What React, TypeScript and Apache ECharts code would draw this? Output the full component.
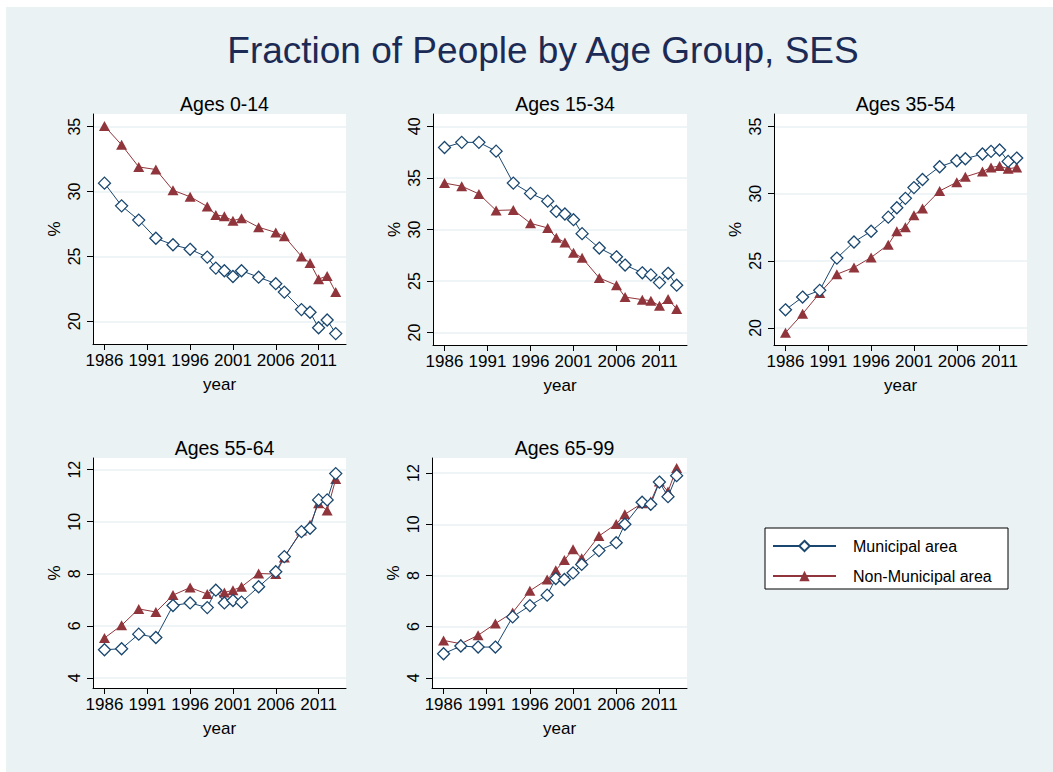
import React, { useEffect, useRef } from "react";
import * as echarts from "echarts";

const years = [1986, 1988, 1990, 1992, 1994, 1996, 1998, 1999, 2000, 2001, 2002, 2004, 2006, 2007, 2009, 2010, 2011, 2012, 2013];

const muni0_14 = [30.65, 28.9, 27.8, 26.4, 25.9, 25.55, 24.95, 24.1, 23.9, 23.45, 23.9, 23.4, 22.9, 22.25, 20.9, 20.7, 19.5, 20.1, 19.05];
const non0_14 = [35.05, 33.6, 31.9, 31.7, 30.1, 29.6, 28.85, 28.2, 28.1, 27.75, 27.95, 27.25, 26.85, 26.55, 25.0, 24.5, 23.25, 23.5, 22.25];

const muni15_34 = [37.95, 38.45, 38.45, 37.6, 34.5, 33.5, 32.75, 31.75, 31.5, 30.95, 29.6, 28.2, 27.35, 26.55, 25.8, 25.6, 24.85, 25.75, 24.6];
const non15_34 = [34.5, 34.2, 33.45, 31.85, 31.9, 30.6, 30.15, 29.2, 28.75, 27.75, 27.25, 25.3, 24.6, 23.45, 23.2, 23.1, 22.6, 23.25, 22.3];

const muni35_54 = [21.35, 22.3, 22.8, 25.2, 26.4, 27.2, 28.25, 28.95, 29.65, 30.45, 31.05, 32.0, 32.45, 32.6, 32.95, 33.15, 33.25, 32.4, 32.65];
const non35_54 = [19.65, 21.05, 22.6, 24.0, 24.5, 25.25, 26.2, 27.2, 27.5, 28.4, 28.9, 30.2, 30.85, 31.25, 31.65, 31.95, 32.05, 31.85, 31.95];

const muni55_64 = [5.08, 5.12, 5.68, 5.55, 6.78, 6.88, 6.7, 7.37, 6.88, 6.97, 6.91, 7.5, 8.08, 8.66, 9.62, 9.75, 10.84, 10.84, 11.85];
const non55_64 = [5.53, 6.02, 6.65, 6.53, 7.18, 7.47, 7.22, 7.43, 7.28, 7.37, 7.5, 8.01, 7.99, 8.63, 9.66, 9.88, 10.71, 10.43, 11.64];

const muni65_99 = [4.94, 5.24, 5.2, 5.2, 6.38, 6.82, 7.23, 7.88, 7.84, 8.1, 8.43, 8.97, 9.28, 10.0, 10.86, 10.78, 11.65, 11.08, 11.9];
const non65_99 = [5.46, 5.33, 5.66, 6.12, 6.55, 7.4, 7.84, 8.2, 8.6, 9.02, 8.67, 9.54, 10.01, 10.39, 10.82, 10.89, 11.67, 11.28, 12.2];

const panelTitles = ["Ages 0-14", "Ages 15-34", "Ages 35-54", "Ages 55-64", "Ages 65-99"];
const municipal = [muni0_14, muni15_34, muni35_54, muni55_64, muni65_99];
const nonMunicipal = [non0_14, non15_34, non35_54, non55_64, non65_99];

const xTicks = [1986, 1991, 1996, 2001, 2006, 2011];
const yTicks0_14 = [20, 25, 30, 35];
const yTicks15_34 = [20, 25, 30, 35, 40];
const yTicks35_54 = [20, 25, 30, 35];
const yTicksOld = [4, 6, 8, 10, 12];
const yTicks = [yTicks0_14, yTicks15_34, yTicks35_54, yTicksOld, yTicksOld];

const seriesNames = ["Municipal area", "Non-Municipal area"];

const BLUE = "#1a476f";
const RED = "#90353b";
const BG = "#eaf2f3";
const FONT = "'Liberation Sans', Arial, sans-serif";

// layout (pixels)
const grids = [
  { left: 93, top: 114, width: 253, height: 230 },
  { left: 433, top: 114, width: 254, height: 231 },
  { left: 774, top: 114, width: 253, height: 231 },
  { left: 93, top: 458, width: 253, height: 230 },
  { left: 432, top: 458, width: 255, height: 230 },
];
const yRanges = [
  [18.25, 35.98],
  [18.8, 41.2],
  [18.73, 35.93],
  [3.61, 12.45],
  [3.6, 12.59],
];
const xRange = [1984.66, 2014.2];

export default function App() {
  const ref = useRef<HTMLDivElement>(null);
  useEffect(() => {
    const chart = echarts.init(ref.current!, null, { renderer: "svg" });
    const titles: any[] = [
      {
        text: "Fraction of People by Age Group, SES",
        left: 538,
        top: 27,
        textAlign: "center",
        textStyle: { fontSize: 37, fontWeight: "normal", color: "#1c2b55", fontFamily: FONT },
      },
    ];
    grids.forEach((g, i) => {
      titles.push({
        text: panelTitles[i],
        left: g.left + g.width / 2,
        top: g.top - 25,
        textAlign: "center",
        textStyle: { fontSize: 19.5, fontWeight: "normal", color: "#000", fontFamily: FONT },
      });
    });

    const gridOpts = grids.map((g) => ({
      left: g.left,
      top: g.top,
      width: g.width,
      height: g.height,
      show: true,
      backgroundColor: "#fff",
      borderWidth: 0,
      containLabel: false,
    }));

    const xAxes = grids.map((_, i) => ({
      gridIndex: i,
      type: "value",
      min: xRange[0],
      max: xRange[1],
      name: "year",
      nameLocation: "middle",
      nameGap: 32,
      nameTextStyle: { fontSize: 17, color: "#000", fontFamily: FONT },
      axisLine: { show: true, onZero: false, lineStyle: { color: "#000", width: 1 } },
      axisTick: { show: true, length: 6, customValues: xTicks, lineStyle: { color: "#000" } },
      axisLabel: {
        customValues: xTicks,
        formatter: (v: number) => String(v),
        fontSize: 17,
        color: "#000",
        margin: 8,
        fontFamily: FONT,
      },
      splitLine: { show: false },
    }));

    const yAxes = grids.map((_, i) => ({
      gridIndex: i,
      type: "value",
      min: yRanges[i][0],
      max: yRanges[i][1],
      name: "%",
      nameLocation: "middle",
      nameRotate: 90,
      nameGap: 30,
      nameTextStyle: { fontSize: 17, color: "#000", fontFamily: FONT },
      axisLine: { show: true, onZero: false, lineStyle: { color: "#000", width: 1 } },
      axisTick: { show: true, length: 6, customValues: yTicks[i], lineStyle: { color: "#000" } },
      axisLabel: {
        customValues: yTicks[i],
        formatter: (v: number) => String(v),
        rotate: 90,
        fontSize: 16,
        color: "#000",
        margin: 11,
        fontFamily: FONT,
      },
      splitLine: { show: true, lineStyle: { color: BG, width: 1.5 } },
    }));

    const series: any[] = [];
    grids.forEach((_, i) => {
      series.push({
        name: seriesNames[0],
        type: "line",
        xAxisIndex: i,
        yAxisIndex: i,
        data: years.map((y, k) => [y, municipal[i][k]]),
        symbol: "diamond",
        symbolSize: 12,
        showAllSymbol: true,
        lineStyle: { color: BLUE, width: 1 },
        itemStyle: { color: "#fff", borderColor: BLUE, borderWidth: 1.3 },
        z: 3,
      });
      series.push({
        name: seriesNames[1],
        type: "line",
        xAxisIndex: i,
        yAxisIndex: i,
        data: years.map((y, k) => [y, nonMunicipal[i][k]]),
        symbol: "triangle",
        symbolSize: [11, 10],
        showAllSymbol: true,
        lineStyle: { color: RED, width: 1 },
        itemStyle: { color: RED, borderColor: RED, borderWidth: 0 },
        z: 2,
      });
    });

    chart.setOption({
      animation: false,
      backgroundColor: "#fff",
      textStyle: { fontFamily: FONT },
      graphic: [
        { type: "rect", shape: { x: 6, y: 7, width: 1047, height: 765 }, style: { fill: BG }, z: -10, silent: true },
        { type: "rect", shape: { x: 765, y: 528, width: 243, height: 61 }, style: { fill: "#fff", stroke: "#000", lineWidth: 1 }, z: 0, silent: true },
      ],
      title: titles,
      grid: gridOpts,
      xAxis: xAxes,
      yAxis: yAxes,
      legend: {
        data: seriesNames,
        orient: "vertical",
        left: 772,
        top: 538,
        padding: 0,
        itemWidth: 63,
        itemHeight: 13,
        itemGap: 14,
        textStyle: { fontSize: 16, color: "#000", fontFamily: FONT, padding: [0, 0, 0, 12] },
        z: 5,
      },
      series,
    });
    return () => chart.dispose();
  }, []);
  return <div ref={ref} style={{ position: "absolute", left: 0, top: 0, width: 1053, height: 772 }} />;
}
